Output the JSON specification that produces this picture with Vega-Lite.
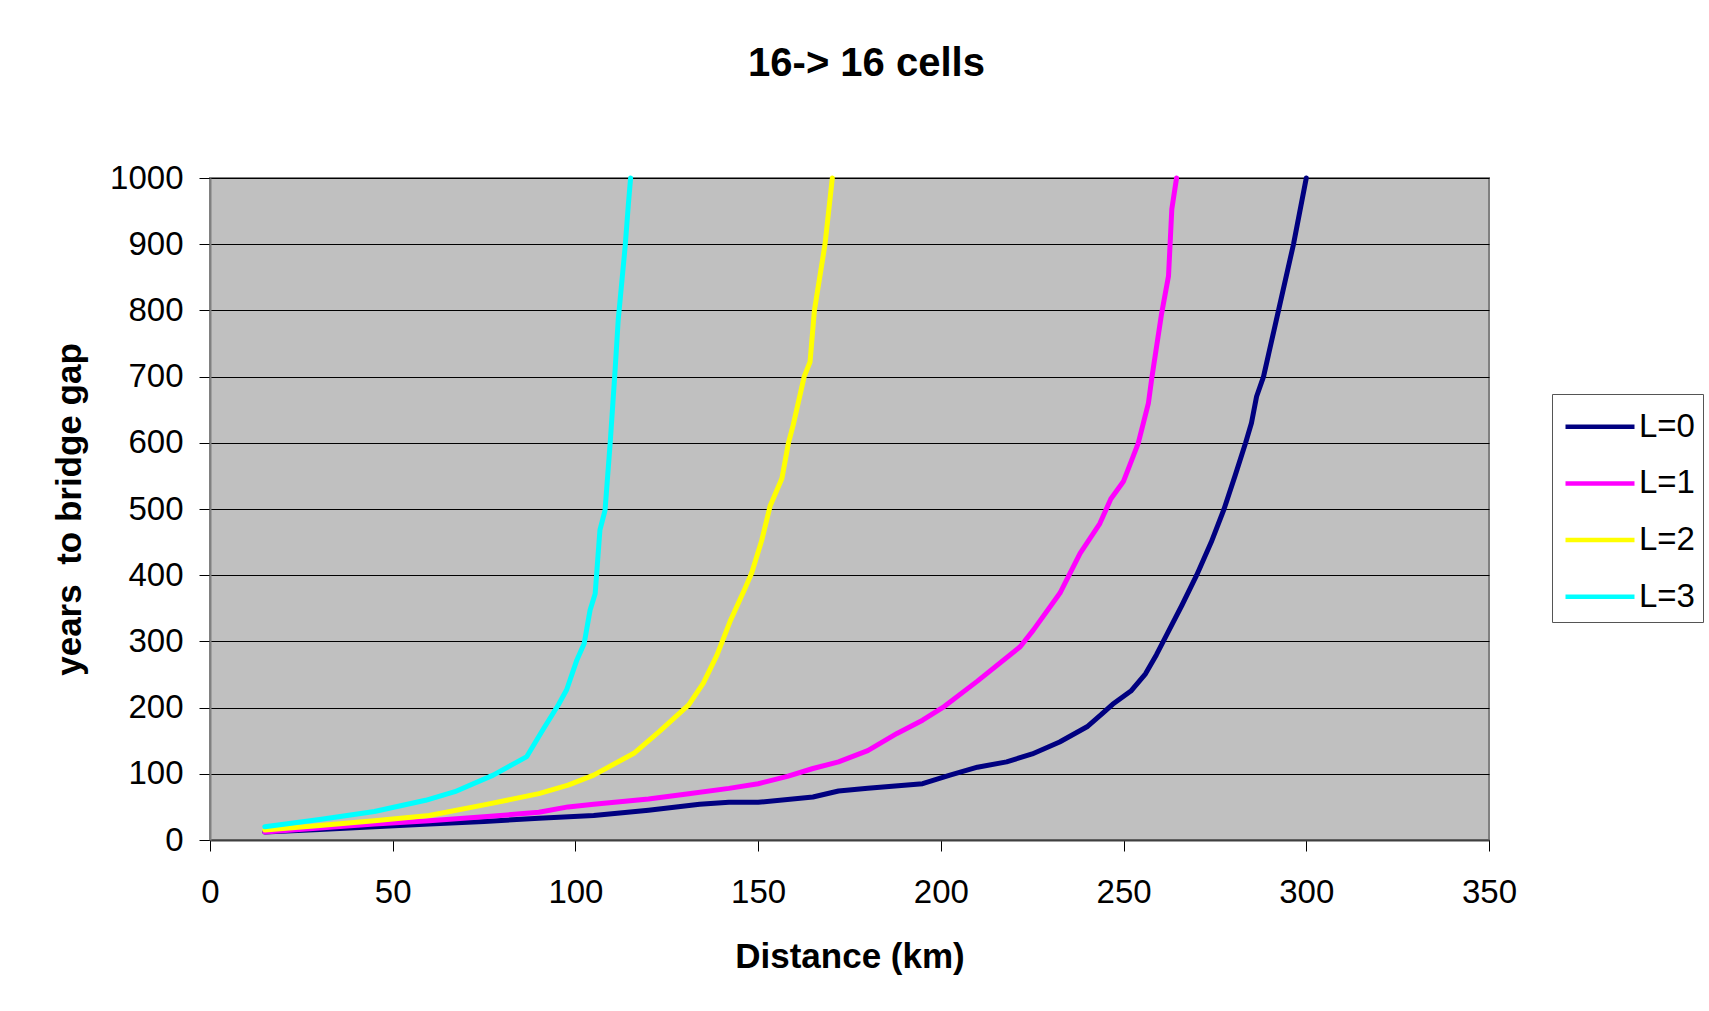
{
  "$schema": "https://vega.github.io/schema/vega-lite/v6.json",
  "autosize": {"type": "none"},
  "width": 1279,
  "height": 662,
  "padding": {"left": 210, "top": 178, "right": 220, "bottom": 171},
  "background": "white",
  "title": {
    "text": "16-> 16 cells",
    "font": "Liberation Sans",
    "fontSize": 40,
    "fontWeight": "bold",
    "color": "black",
    "anchor": "middle",
    "frame": "group",
    "dx": 17,
    "offset": 78
  },
  "data": {
    "values": [
      {"L": "L=0", "d": 15, "y": 12}, {"L": "L=0", "d": 30, "y": 16}, {"L": "L=0", "d": 45, "y": 20},
      {"L": "L=0", "d": 60, "y": 24}, {"L": "L=0", "d": 75, "y": 28}, {"L": "L=0", "d": 90, "y": 33},
      {"L": "L=0", "d": 105, "y": 37}, {"L": "L=0", "d": 120, "y": 45}, {"L": "L=0", "d": 134, "y": 54},
      {"L": "L=0", "d": 142, "y": 57}, {"L": "L=0", "d": 150, "y": 57}, {"L": "L=0", "d": 165, "y": 65},
      {"L": "L=0", "d": 172, "y": 74}, {"L": "L=0", "d": 180, "y": 78}, {"L": "L=0", "d": 195, "y": 85},
      {"L": "L=0", "d": 202.5, "y": 98}, {"L": "L=0", "d": 210, "y": 110}, {"L": "L=0", "d": 218, "y": 118},
      {"L": "L=0", "d": 225, "y": 130}, {"L": "L=0", "d": 232.5, "y": 148}, {"L": "L=0", "d": 240, "y": 171},
      {"L": "L=0", "d": 244, "y": 190}, {"L": "L=0", "d": 247, "y": 205}, {"L": "L=0", "d": 252, "y": 225},
      {"L": "L=0", "d": 256, "y": 251}, {"L": "L=0", "d": 259, "y": 280}, {"L": "L=0", "d": 262, "y": 312},
      {"L": "L=0", "d": 266, "y": 355}, {"L": "L=0", "d": 270, "y": 400}, {"L": "L=0", "d": 274, "y": 450},
      {"L": "L=0", "d": 277.5, "y": 500}, {"L": "L=0", "d": 280.5, "y": 550}, {"L": "L=0", "d": 283.4, "y": 600},
      {"L": "L=0", "d": 285, "y": 630}, {"L": "L=0", "d": 286.4, "y": 670}, {"L": "L=0", "d": 288.3, "y": 700},
      {"L": "L=0", "d": 292.4, "y": 800}, {"L": "L=0", "d": 296.5, "y": 900}, {"L": "L=0", "d": 300, "y": 1000},

      {"L": "L=1", "d": 15, "y": 12}, {"L": "L=1", "d": 30, "y": 18}, {"L": "L=1", "d": 45, "y": 24},
      {"L": "L=1", "d": 60, "y": 29}, {"L": "L=1", "d": 75, "y": 35}, {"L": "L=1", "d": 90, "y": 42},
      {"L": "L=1", "d": 98, "y": 50}, {"L": "L=1", "d": 105, "y": 54}, {"L": "L=1", "d": 120, "y": 62},
      {"L": "L=1", "d": 131, "y": 70}, {"L": "L=1", "d": 142, "y": 78}, {"L": "L=1", "d": 150, "y": 85},
      {"L": "L=1", "d": 158, "y": 96}, {"L": "L=1", "d": 165, "y": 108}, {"L": "L=1", "d": 172, "y": 118},
      {"L": "L=1", "d": 180, "y": 135}, {"L": "L=1", "d": 188, "y": 161}, {"L": "L=1", "d": 195, "y": 181},
      {"L": "L=1", "d": 201, "y": 202}, {"L": "L=1", "d": 210, "y": 240}, {"L": "L=1", "d": 221.7, "y": 292},
      {"L": "L=1", "d": 225.3, "y": 317}, {"L": "L=1", "d": 232.6, "y": 373}, {"L": "L=1", "d": 238.1, "y": 433},
      {"L": "L=1", "d": 243.5, "y": 478}, {"L": "L=1", "d": 246.5, "y": 515}, {"L": "L=1", "d": 250, "y": 542},
      {"L": "L=1", "d": 254, "y": 599}, {"L": "L=1", "d": 256.8, "y": 660}, {"L": "L=1", "d": 257.7, "y": 697},
      {"L": "L=1", "d": 260.4, "y": 795}, {"L": "L=1", "d": 262.3, "y": 852}, {"L": "L=1", "d": 263.2, "y": 953},
      {"L": "L=1", "d": 264.5, "y": 1000},

      {"L": "L=2", "d": 15, "y": 15}, {"L": "L=2", "d": 30, "y": 22}, {"L": "L=2", "d": 45, "y": 29},
      {"L": "L=2", "d": 60, "y": 37}, {"L": "L=2", "d": 75, "y": 53}, {"L": "L=2", "d": 90, "y": 70},
      {"L": "L=2", "d": 98, "y": 83}, {"L": "L=2", "d": 105, "y": 98}, {"L": "L=2", "d": 116, "y": 131},
      {"L": "L=2", "d": 123, "y": 164}, {"L": "L=2", "d": 131, "y": 204}, {"L": "L=2", "d": 135, "y": 237},
      {"L": "L=2", "d": 138.7, "y": 279}, {"L": "L=2", "d": 142.3, "y": 330}, {"L": "L=2", "d": 146.4, "y": 380},
      {"L": "L=2", "d": 148.2, "y": 403}, {"L": "L=2", "d": 151, "y": 453}, {"L": "L=2", "d": 153.3, "y": 505},
      {"L": "L=2", "d": 156.5, "y": 546}, {"L": "L=2", "d": 158.3, "y": 600}, {"L": "L=2", "d": 159.6, "y": 627},
      {"L": "L=2", "d": 162.6, "y": 700}, {"L": "L=2", "d": 164.2, "y": 722}, {"L": "L=2", "d": 165.4, "y": 800},
      {"L": "L=2", "d": 168.3, "y": 900}, {"L": "L=2", "d": 170.3, "y": 1000},

      {"L": "L=3", "d": 15, "y": 20}, {"L": "L=3", "d": 30, "y": 31}, {"L": "L=3", "d": 45, "y": 43},
      {"L": "L=3", "d": 59, "y": 60}, {"L": "L=3", "d": 67, "y": 73}, {"L": "L=3", "d": 77.5, "y": 98},
      {"L": "L=3", "d": 86.7, "y": 126}, {"L": "L=3", "d": 90.8, "y": 164}, {"L": "L=3", "d": 95.3, "y": 204},
      {"L": "L=3", "d": 97.6, "y": 227}, {"L": "L=3", "d": 100.4, "y": 272}, {"L": "L=3", "d": 102.4, "y": 297},
      {"L": "L=3", "d": 104, "y": 347}, {"L": "L=3", "d": 105.4, "y": 372}, {"L": "L=3", "d": 106.7, "y": 468},
      {"L": "L=3", "d": 108.1, "y": 498}, {"L": "L=3", "d": 109.5, "y": 599}, {"L": "L=3", "d": 110.8, "y": 705},
      {"L": "L=3", "d": 111.7, "y": 785}, {"L": "L=3", "d": 113.6, "y": 896}, {"L": "L=3", "d": 114.5, "y": 961},
      {"L": "L=3", "d": 115.1, "y": 1000}
    ]
  },
  "mark": {"type": "line", "strokeWidth": 5, "strokeCap": "round", "strokeJoin": "round", "clip": false},
  "encoding": {
    "x": {
      "field": "d", "type": "quantitative", "title": "Distance (km)",
      "scale": {"domain": [0, 350], "nice": false, "zero": false},
      "axis": {
        "values": [0, 50, 100, 150, 200, 250, 300, 350],
        "grid": false,
        "tickSize": 11, "tickColor": "#000000", "tickWidth": 1,
        "labelPadding": 25,
        "domainColor": "#404040", "domainWidth": 2,
        "titlePadding": 30
      }
    },
    "y": {
      "field": "y", "type": "quantitative", "title": "years \u00a0to bridge gap",
      "scale": {"domain": [0, 1000], "nice": false},
      "axis": {
        "values": [0, 100, 200, 300, 400, 500, 600, 700, 800, 900, 1000],
        "format": "d",
        "grid": true, "gridColor": "#000000", "gridWidth": 1, "gridOpacity": 1,
        "tickSize": 11, "tickColor": "#000000", "tickWidth": 1,
        "labelPadding": 16,
        "domainColor": "#808080", "domainWidth": 2,
        "titlePadding": 22
      }
    },
    "color": {
      "field": "L", "type": "nominal",
      "scale": {"domain": ["L=0", "L=1", "L=2", "L=3"], "range": ["#000080", "#FF00FF", "#FFFF00", "#00FFFF"]},
      "legend": {
        "title": " ",
        "titleFontSize": 4,
        "titlePadding": 4.4,
        "orient": "none",
        "legendX": 1342,
        "legendY": 216,
        "symbolType": "stroke",
        "symbolSize": 4761,
        "symbolStrokeWidth": 4.5,
        "symbolOffset": 3.7,
        "clipHeight": 34,
        "rowPadding": 22.7,
        "labelOffset": 2,
        "padding": 7.3,
        "fillColor": "white",
        "strokeColor": "#555555",
        "labelFontSize": 33,
        "labelFont": "Liberation Sans",
        "labelColor": "#000000"
      }
    }
  },
  "config": {
    "view": {"fill": "#C0C0C0", "stroke": "#808080", "strokeWidth": 2},
    "axis": {
      "labelFont": "Liberation Sans", "labelFontSize": 33, "labelColor": "#000000",
      "titleFont": "Liberation Sans", "titleFontSize": 35, "titleFontWeight": "bold", "titleColor": "#000000",
      "labelFlush": false, "labelOverlap": false
    }
  }
}
